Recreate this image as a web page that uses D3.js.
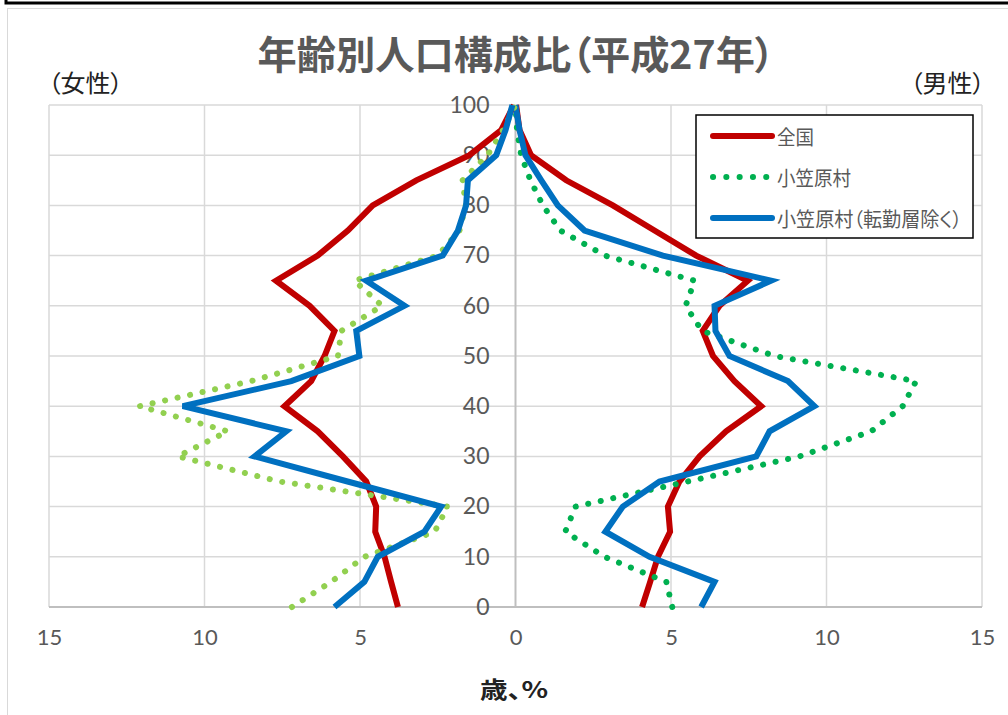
<!DOCTYPE html>
<html>
<head>
<meta charset="utf-8">
<script src="https://cdn.jsdelivr.net/npm/d3@7"></script>
<style>
  html, body { margin: 0; padding: 0; background: #fff; }
  svg { display: block; }
  .jp { font-feature-settings: "palt"; }
</style>
</head>
<body>
<svg id="chart" width="1008" height="715"></svg>
<script>
// Age classes (lower bound of each 5-year group)
const ages = [0, 5, 10, 15, 20, 25, 30, 35, 40, 45, 50, 55, 60, 65, 70, 75, 80, 85, 90, 95, 100];

// Share of each age group, % — female (left side)
const femaleNational  = [3.78, 4.00, 4.21, 4.51, 4.48, 4.80, 5.55, 6.36, 7.43, 6.57, 6.14, 5.82, 6.62, 7.70, 6.36, 5.39, 4.59, 3.19, 1.48, 0.46, 0.05];
const femaleOgasawara = [7.19, 5.93, 4.86, 2.60, 2.18, 7.59, 10.86, 9.25, 12.09, 8.50, 5.71, 5.60, 4.29, 5.18, 2.50, 1.80, 1.60, 1.70, 0.90, 0.40, 0.00];
const femaleResident  = [5.82, 4.86, 4.43, 2.93, 2.39, 5.40, 8.39, 7.37, 10.70, 7.21, 5.02, 5.12, 3.57, 4.80, 2.34, 1.85, 1.59, 1.53, 0.62, 0.32, 0.10];

// Share of each age group, % — male (right side)
const maleNational  = [4.07, 4.33, 4.58, 4.97, 4.90, 5.27, 5.92, 6.77, 7.90, 7.04, 6.35, 6.02, 6.56, 7.47, 5.81, 4.47, 3.13, 1.63, 0.50, 0.13, 0.02];
const maleOgasawara = [5.04, 4.85, 2.86, 1.60, 1.93, 5.54, 9.13, 11.44, 12.45, 12.88, 8.33, 6.00, 5.47, 5.76, 2.88, 1.44, 0.88, 0.48, 0.18, 0.05, 0.00];
const maleResident  = [5.97, 6.40, 4.31, 2.89, 3.45, 4.63, 7.74, 8.17, 9.61, 8.76, 6.88, 6.43, 6.40, 8.22, 4.74, 2.22, 1.36, 0.83, 0.32, 0.13, 0.00];

const seriesNames = ["全国", "小笠原村", "小笠原村（転勤層除く）"];
const xTicks = [-15, -10, -5, 0, 5, 10, 15];
const yTicks = [0, 10, 20, 30, 40, 50, 60, 70, 80, 90, 100];

const titleText = "年齢別人口構成比（平成27年）";
const femaleLabel = "（女性）";
const maleLabel = "（男性）";
const axisTitle = "歳、%";

const RED = "#C00000", BLUE = "#0070C0", GREEN = "#00B050", LIGHT_GREEN = "#92D050";
const TEXT_GRAY = "#595959";
const JP = "'Noto Sans CJK JP', 'Noto Sans', sans-serif";
const NUM = "Lato, 'Noto Sans', sans-serif";

const svg = d3.select("#chart");

// Outer frames
svg.append("rect").attr("x", 6).attr("y", -10).attr("width", 1020).attr("height", 13)
  .attr("fill", "none").attr("stroke", "#000").attr("stroke-width", 3);
svg.append("rect").attr("x", 7.5).attr("y", 8.5).attr("width", 1010).attr("height", 720)
  .attr("fill", "#fff").attr("stroke", "#d9d9d9").attr("stroke-width", 1);

const x = d3.scaleLinear().domain([-15, 15]).range([49, 982]);
const y = d3.scaleLinear().domain([0, 100]).range([607, 105]);

// Grid
const grid = svg.append("g");
grid.selectAll("line.h").data(yTicks.filter(d => d > 0)).join("line")
  .attr("x1", x(-15)).attr("x2", x(15))
  .attr("y1", d => y(d)).attr("y2", d => y(d))
  .attr("stroke", "#d9d9d9").attr("stroke-width", 1.5);
grid.selectAll("line.v").data(xTicks.filter(d => d !== 0)).join("line")
  .attr("x1", d => x(d)).attr("x2", d => x(d))
  .attr("y1", y(100)).attr("y2", y(0))
  .attr("stroke", "#d9d9d9").attr("stroke-width", 1.5);

// Axes (center vertical + bottom)
svg.append("line").attr("x1", x(0)).attr("x2", x(0)).attr("y1", y(100)).attr("y2", y(0))
  .attr("stroke", "#bfbfbf").attr("stroke-width", 2);
svg.append("line").attr("x1", x(-15)).attr("x2", x(15)).attr("y1", y(0)).attr("y2", y(0))
  .attr("stroke", "#bfbfbf").attr("stroke-width", 2);

// Bottom axis tick labels (absolute values on both sides)
const xAxis = d3.axisBottom(x).tickValues(xTicks).tickFormat(d => Math.abs(d)).tickSize(0).tickPadding(22);
const gx = svg.append("g").attr("transform", `translate(0,${y(0)})`).call(xAxis);
gx.select(".domain").remove();
gx.selectAll("text").attr("font-family", NUM).attr("font-size", 22).attr("fill", TEXT_GRAY);

// Age labels alongside the center axis
const yAxis = d3.axisLeft(y).tickValues(yTicks).tickSize(0).tickPadding(26);
const gy = svg.append("g").attr("transform", `translate(${x(0)},0)`).call(yAxis);
gy.select(".domain").remove();
gy.selectAll("text").attr("font-family", NUM).attr("font-size", 23).attr("fill", TEXT_GRAY);

// Series lines
const line = d3.line().x(d => x(d[1])).y(d => y(d[0]));
const sideData = (vals, sign) => ages.map((a, i) => [a, sign * vals[i]]);

const solid = (path, color) => path.attr("fill", "none").attr("stroke", color)
  .attr("stroke-width", 6).attr("stroke-linejoin", "miter").attr("stroke-linecap", "butt");
const dotted = (path, color) => path.attr("fill", "none").attr("stroke", color)
  .attr("stroke-width", 6).attr("stroke-linecap", "round").attr("stroke-dasharray", "0.1 12.7");

const lines = svg.append("g");
solid(lines.append("path").attr("d", line(sideData(maleNational, 1))), RED);
dotted(lines.append("path").attr("d", line(sideData(maleOgasawara, 1))), GREEN);
solid(lines.append("path").attr("d", line(sideData(maleResident, 1))), BLUE);
solid(lines.append("path").attr("d", line(sideData(femaleNational, -1))), RED);
dotted(lines.append("path").attr("d", line(sideData(femaleOgasawara, -1))), LIGHT_GREEN);
solid(lines.append("path").attr("d", line(sideData(femaleResident, -1))), BLUE);

// Title and side labels
svg.append("text").attr("class", "jp").attr("x", 516).attr("y", 52).attr("text-anchor", "middle")
  .attr("dominant-baseline", "central")
  .attr("font-family", JP).attr("font-weight", "bold").attr("font-size", 39)
  .attr("fill", TEXT_GRAY).attr("textLength", 517).attr("lengthAdjust", "spacingAndGlyphs")
  .text(titleText);
svg.append("text").attr("class", "jp").attr("x", 48).attr("y", 81).attr("dominant-baseline", "central")
  .attr("font-family", JP).attr("font-size", 24).attr("fill", "#222")
  .attr("textLength", 75).attr("lengthAdjust", "spacingAndGlyphs").text(femaleLabel);
svg.append("text").attr("class", "jp").attr("x", 985).attr("y", 81).attr("dominant-baseline", "central")
  .attr("text-anchor", "end")
  .attr("font-family", JP).attr("font-size", 24).attr("fill", "#222")
  .attr("textLength", 75).attr("lengthAdjust", "spacingAndGlyphs").text(maleLabel);
svg.append("text").attr("class", "jp").attr("x", 514).attr("y", 688).attr("text-anchor", "middle")
  .attr("dominant-baseline", "central")
  .attr("font-family", JP).attr("font-weight", "bold").attr("font-size", 23).attr("fill", "#222")
  .attr("textLength", 68).attr("lengthAdjust", "spacingAndGlyphs")
  .text(axisTitle);

// Legend
const legend = svg.append("g").attr("transform", "translate(696,115)");
legend.append("rect").attr("width", 277).attr("height", 123)
  .attr("fill", "#fff").attr("stroke", "#000").attr("stroke-width", 1.5);
const legendColors = [RED, GREEN, BLUE];
const legendY = [21, 62, 103];
const legendWidths = [37, 74, 185];
seriesNames.forEach((name, i) => {
  const p = legend.append("path").attr("d", `M17,${legendY[i]}H76`);
  if (i === 1) dotted(p, legendColors[i]).attr("stroke-dasharray", "0.1 13.2");
  else solid(p, legendColors[i]).attr("stroke-linecap", "round");
  legend.append("text").attr("class", "jp").attr("x", 81).attr("y", legendY[i]).attr("dominant-baseline", "central")
    .attr("font-family", JP).attr("font-size", 20).attr("fill", TEXT_GRAY)
    .attr("textLength", legendWidths[i]).attr("lengthAdjust", "spacingAndGlyphs")
    .text(name);
});
</script>
</body>
</html>
